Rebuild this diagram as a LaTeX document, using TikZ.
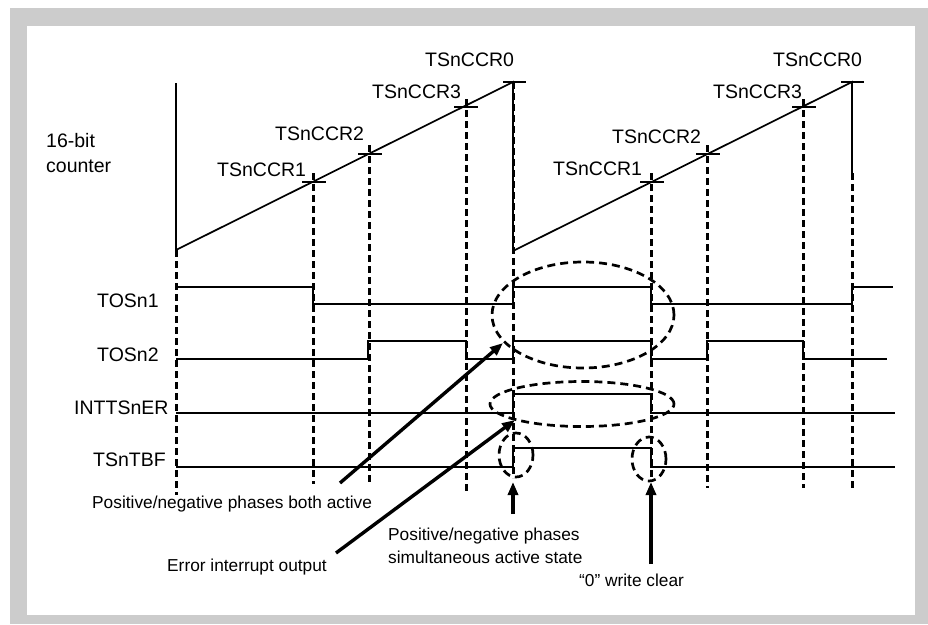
\documentclass[tikz,border=0pt]{standalone}
\usepackage{fontspec}
\setmainfont{Liberation Sans}
\usetikzlibrary{arrows.meta}
\begin{document}
\begin{tikzpicture}[x=1pt,y=-1pt,
  sig/.style={line width=1.7pt},
  guide/.style={line width=3pt, dash pattern=on 7pt off 4pt},
  ring/.style={line width=2.7pt, dash pattern=on 8pt off 5pt},
  pointer/.style={line width=3.4pt,-{Triangle[length=13pt,width=10pt]}},
  lbl/.style={inner sep=0pt,font=\fontsize{19.5}{22}\selectfont,anchor=base west},
  note/.style={inner sep=0pt,font=\fontsize{17.3}{20}\selectfont,anchor=base west}]
\fill[white] (0,0) rectangle (928,624);
\fill[gray!40] (10,8) rectangle (928,624);
\fill[white] (27,26) rectangle (915,615);
\useasboundingbox (0,0) rectangle (928,624);

% counter ramps
\coordinate (r1s) at (176,250);
\coordinate (r1e) at (513,82);
\coordinate (r2s) at (513,251);
\coordinate (r2e) at (852,82);
\draw[sig] (176,83) -- (r1s) -- (r1e) -- (r2s) -- (r2e) -- (852,173);
% ticks
\draw[sig] (503,82) -- (526,82);
\draw[sig] (841,82) -- (864,82);
\draw[sig] (302,182) -- (326,182);
\draw[sig] (358,154) -- (382,154);
\draw[sig] (454,107) -- (478,107);
\draw[sig] (640,182) -- (664,182);
\draw[sig] (696,154) -- (720,154);
\draw[sig] (792,107) -- (816,107);

% guide lines
\draw[guide] (176,250) -- (176,495);
\draw[guide] (313,173) -- (313,484);
\draw[guide] (369,145) -- (369,484);
\draw[guide] (466,99) -- (466,492);
\draw[guide] (513,82) -- (513,478);
\draw[guide] (651,173) -- (651,478);
\draw[guide] (707,145) -- (707,488);
\draw[guide] (803,99) -- (803,488);
\draw[guide] (852,173) -- (852,488);

% signals
\draw[sig] (176,287) -- (313,287) -- (313,304) -- (513,304) -- (513,287) -- (651,287) -- (651,304) -- (852,304) -- (852,287) -- (893,287);
\draw[sig] (176,359) -- (368,359) -- (368,341) -- (466,341) -- (466,359) -- (513,359) -- (513,341) -- (651,341) -- (651,359) -- (707,359) -- (707,341) -- (803,341) -- (803,359) -- (887,359);
\draw[sig] (176,413) -- (513,413) -- (513,394) -- (651,394) -- (651,413) -- (895,413);
\draw[sig] (176,467) -- (513,467) -- (513,448) -- (651,448) -- (651,467) -- (895,467);

% dashed ellipses
\draw[ring] (583,315) ellipse [x radius=91pt, y radius=53pt];
\draw[ring] (582,404) ellipse [x radius=92pt, y radius=22.5pt];
\draw[ring] (516,455) ellipse [x radius=17pt, y radius=22pt];
\draw[ring] (649,459) ellipse [x radius=17pt, y radius=22pt];

% labels
\node[lbl] (cnt1) at (46,147) {16-bit};
\node[lbl] (cnt2) at (46,172) {counter};
\node[lbl] (a0) at (425,66) {TSnCCR0};
\node[lbl] (a3) at (372,98) {TSnCCR3};
\node[lbl] (a2) at (275,140) {TSnCCR2};
\node[lbl] (a1) at (217,176) {TSnCCR1};
\node[lbl] (b0) at (773,66) {TSnCCR0};
\node[lbl] (b3) at (713,98) {TSnCCR3};
\node[lbl] (b2) at (612,143) {TSnCCR2};
\node[lbl] (b1) at (553,175) {TSnCCR1};
\node[lbl] (s1) at (97,307) {TOSn1};
\node[lbl] (s2) at (97,361) {TOSn2};
\node[lbl] (s3) at (74,414) {INTTSnER};
\node[lbl] (s4) at (93,466) {TSnTBF};

\node[note] (n1) at (92,508) {Positive/negative phases both active};
\node[note] (n2) at (167,571) {Error interrupt output};
\node[note] (n3a) at (388,540) {Positive/negative phases};
\node[note] (n3b) at (388,563) {simultaneous active state};
\node[note] (n4) at (579,586) {“0” write clear};

% arrows
\coordinate (p1) at (340,483);
\coordinate (q1) at (503,343);
\coordinate (p2) at (336,553);
\coordinate (q2) at (515,420);
\coordinate (p3) at (513,514);
\coordinate (q3) at (513,482);
\coordinate (p4) at (651,564);
\coordinate (q4) at (651,482);
\draw[pointer] (p1) -- (q1);
\draw[pointer] (p2) -- (q2);
\draw[pointer] (p3) -- (q3);
\draw[pointer] (p4) -- (q4);
\end{tikzpicture}
\end{document}
